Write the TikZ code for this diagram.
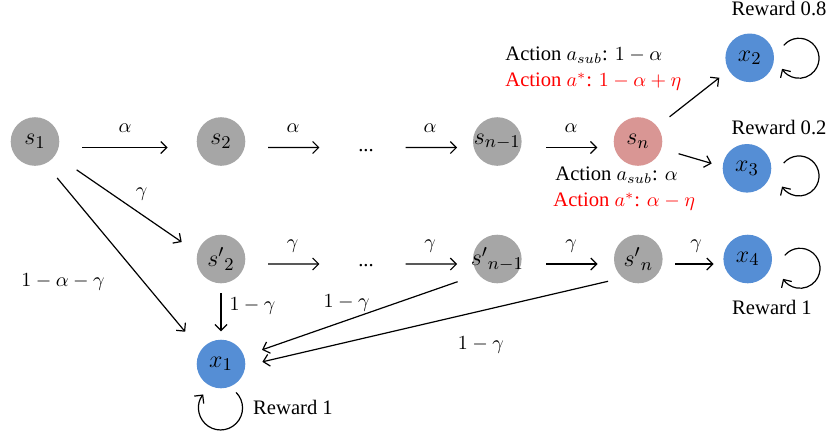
\documentclass[tikz,border=0pt]{standalone}
\usepackage{fontspec}
\setmainfont{Liberation Serif}
\usetikzlibrary{arrows.meta}
\definecolor{stgrey}{HTML}{A6A6A6}
\definecolor{stpink}{HTML}{D99694}
\definecolor{stblue}{HTML}{558ED5}
\tikzset{
  gnode/.style={circle,fill=stgrey,minimum size=24.3pt,inner sep=0pt,font=\fontsize{12.5pt}{14pt}\selectfont},
  pnode/.style={gnode,fill=stpink},
  bnode/.style={gnode,fill=stblue},
  dnode/.style={inner sep=0pt},
  arr/.style={-{Straight Barb[length=3pt,width=6pt]},line width=0.6pt},
  lbl/.style={inner sep=0pt},
}
\begin{document}
\begin{tikzpicture}[x=0.5pt,y=-0.5pt,font=\fontsize{10.3pt}{12pt}\selectfont]
\pgfmathsetmacro{\ya}{141.5}
\pgfmathsetmacro{\yb}{259}
\useasboundingbox (0,0) rectangle (831,435);
%
\node[gnode](s1) at (35,\ya) {$s_1$};
\node[gnode](s2) at (221,\ya) {$s_2$};
\node[dnode](d1) at (366,150.7) {...};
\node[gnode](sn1) at (497.3,\ya) {\makebox[0pt]{$s_{n-1}$}};
\node[pnode](sn) at (638,\ya) {$s_n$};
\node[bnode](x2) at (749.7,57.8) {$x_2$};
\node[bnode](x3) at (747,168.3) {$x_3$};
%
\node[gnode](t2) at (221,\yb) {${s'}_2$};
\node[dnode](d2) at (366,265.7) {...};
\node[gnode](tn1) at (497.3,\yb) {\makebox[0pt]{${s'}_{n-1}$}};
\node[gnode](tn) at (638.3,\yb) {${s'}_n$};
\node[bnode](x4) at (747.7,\yb) {$x_4$};
\node[bnode](x1) at (221,364) {$x_1$};
%
\draw[arr,shorten <=11.2pt,shorten >=14.35pt]([yshift=-3pt]s1.east)--([yshift=-3pt]s2.west);
\draw[arr,shorten <=11.2pt,shorten >=19.2pt]([yshift=-3pt]s2.east)--([yshift=1.6pt]d1.west);
\draw[arr,shorten <=15.7pt,shorten >=7.7pt]([yshift=1.6pt]d1.east)--([yshift=-3pt]sn1.west);
\draw[arr,shorten <=12.2pt,shorten >=8pt]([yshift=-3pt]sn1.east)--([yshift=-3pt]sn.west);
\draw[arr,shorten <=7.7pt,shorten >=5.85pt](sn.38)--(x2.211.6);
\draw[arr,shorten <=8.85pt,shorten >=5.55pt](sn.-17)--(x3.176);
%
\draw[arr,shorten <=11.2pt,shorten >=19.2pt]([yshift=-2.5pt]t2.east)--([yshift=0.85pt]d2.west);
\draw[arr,shorten <=15.7pt,shorten >=7.7pt]([yshift=0.85pt]d2.east)--([yshift=-2.5pt]tn1.west);
\draw[arr,shorten <=12.2pt,shorten >=8pt]([yshift=-2.5pt]tn1.east)--([yshift=-2.5pt]tn.west);
\draw[arr,shorten <=6.2pt,shorten >=4.7pt]([yshift=-2.5pt]tn.east)--([yshift=-2.5pt]x4.west);
%
\draw[arr,shorten <=12.85pt,shorten >=9.35pt](s1.-34)--(t2.165);
\draw[arr,shorten <=9.15pt,shorten >=12pt](s1.-65)--(x1.146);
\draw[arr,shorten <=4.7pt,shorten >=4pt](t2.south)--(x1.north);
\draw[arr,shorten <=10.85pt,shorten >=9.35pt](tn1.219.5)--(x1.19);
\draw[arr,shorten <=7.35pt,shorten >=8.6pt](tn.230)--(x1.-4.6);
%
\draw[arr]([shift={(34,-12.4)}]x2.center) arc[start angle=140,end angle=-148,radius=10pt];
\draw[arr]([shift={(36.7,-5.2)}]x3.center) arc[start angle=140,end angle=-148,radius=10pt];
\draw[arr]([shift={(37,-3.6)}]x4.center) arc[start angle=140,end angle=-148,radius=10pt];
\draw[arr]([shift={(15.1,28.4)}]x1.center) arc[start angle=45,end angle=-218,radius=11pt];
%
\node[lbl](la1) at (125,128) {$\alpha$};
\node[lbl](la2) at (293,128) {$\alpha$};
\node[lbl](la3) at (430,128) {$\alpha$};
\node[lbl](la4) at (571,128) {$\alpha$};
\node[lbl](lg1) at (292.5,246) {$\gamma$};
\node[lbl](lg2) at (430,246) {$\gamma$};
\node[lbl](lg3) at (571,246) {$\gamma$};
\node[lbl](lg4) at (696,246) {$\gamma$};
\node[lbl](lg5) at (141.7,194) {$\gamma$};
\node[lbl](lc1) at (63,282) {$1-\alpha-\gamma$};
\node[lbl](lc2) at (252.5,306) {$1-\gamma$};
\node[lbl](lc3) at (346.7,303) {$1-\gamma$};
\node[lbl](lc4) at (480.8,345) {$1-\gamma$};
%
\node[lbl,anchor=west](ac1) at (505,55) {Action $a_{sub}$: $1-\alpha$};
\node[lbl,anchor=west,red](ac2) at (505,82) {Action $a^{*}$: $1-\alpha+\eta$};
\node[lbl,anchor=west](ac3) at (555,175) {Action $a_{sub}$: $\alpha$};
\node[lbl,anchor=west,red](ac4) at (553,202) {Action $a^{*}$: $\alpha-\eta$};
%
\node[lbl](rw1) at (779,8) {Reward 0.8};
\node[lbl](rw2) at (779,127) {Reward 0.2};
\node[lbl](rw3) at (772,307) {Reward 1};
\node[lbl](rw4) at (293,407) {Reward 1};
\end{tikzpicture}
\end{document}
